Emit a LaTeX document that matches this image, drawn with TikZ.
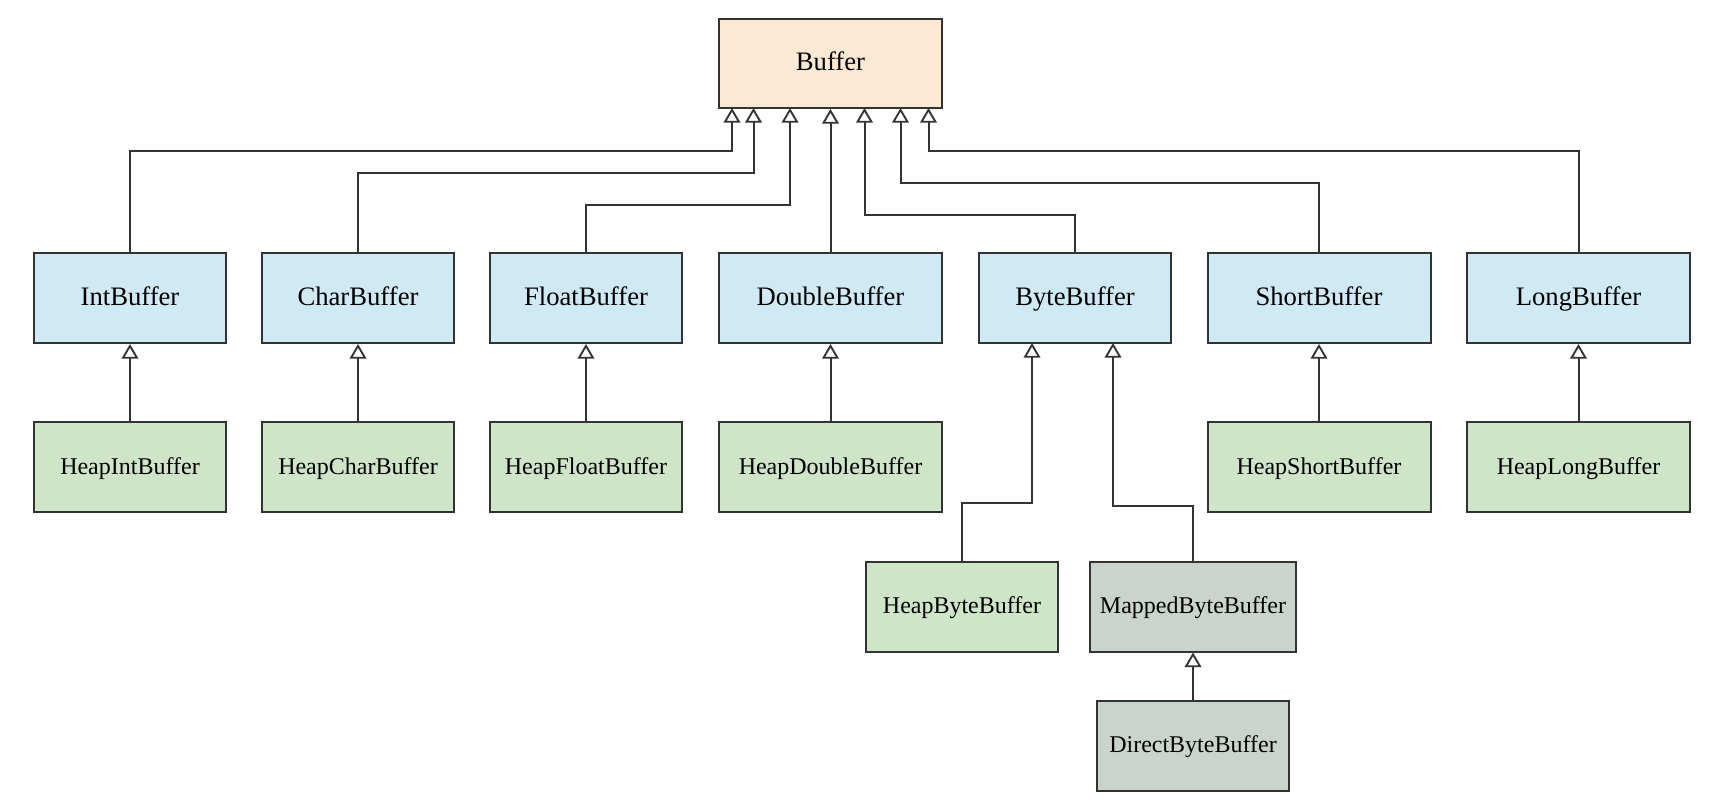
\documentclass[tikz,border=0pt]{standalone}
\usepackage{fontspec}
\setmainfont{Liberation Serif}
\usetikzlibrary{arrows.meta}
\definecolor{bordc}{HTML}{333333}
\definecolor{rootc}{HTML}{FCE9D3}
\definecolor{bluec}{HTML}{D0EAF5}
\definecolor{greenc}{HTML}{CEE5C8}
\definecolor{grayc}{HTML}{CAD4CC}
\tikzset{
  box/.style={draw=bordc, line width=1.5pt, inner sep=0pt, minimum height=67.5pt, text=black, align=center, text height=13pt, text depth=2pt},
  big/.style={font=\fontsize{20}{24}\selectfont},
  small/.style={font=\fontsize{18}{22}\selectfont},
  w192/.style={minimum width=144pt},
  w223/.style={minimum width=167.25pt},
  w206/.style={minimum width=154.5pt},
  inh/.style={draw=bordc, line width=1.5pt, -{Triangle[open, length=11pt, width=12.5pt, line width=1.4pt]}},
}
\begin{document}
\begin{tikzpicture}[x=0.75pt, y=-0.75pt]
\useasboundingbox (0,0) rectangle (1729,811);
% root
\node[box, big, fill=rootc, w223, minimum height=66.75pt] (buf) at (830.5,63.5) {Buffer};
% row 1
\node[box, big, fill=bluec, w192] (int) at (130,298) {IntBuffer};
\node[box, big, fill=bluec, w192] (chr) at (358,298) {CharBuffer};
\node[box, big, fill=bluec, w192] (flt) at (586,298) {FloatBuffer};
\node[box, big, fill=bluec, w223] (dbl) at (830.5,298) {DoubleBuffer};
\node[box, big, fill=bluec, w192] (byt) at (1075,298) {ByteBuffer};
\node[box, big, fill=bluec, w223] (sht) at (1319,298) {ShortBuffer};
\node[box, big, fill=bluec, w223] (lng) at (1578.5,298) {LongBuffer};
% row 2
\node[box, small, fill=greenc, w192] (hint) at (130,467) {HeapIntBuffer};
\node[box, small, fill=greenc, w192] (hchr) at (358,467) {HeapCharBuffer};
\node[box, small, fill=greenc, w192] (hflt) at (586,467) {HeapFloatBuffer};
\node[box, small, fill=greenc, w223] (hdbl) at (830.5,467) {HeapDoubleBuffer};
\node[box, small, fill=greenc, w223] (hsht) at (1319,467) {HeapShortBuffer};
\node[box, small, fill=greenc, w223] (hlng) at (1578.5,467) {HeapLongBuffer};
% byte children
\node[box, small, fill=greenc, w192] (hbyt) at (962,606.5) {HeapByteBuffer};
\node[box, small, fill=grayc, w206] (mbyt) at (1193,606.5) {MappedByteBuffer};
\node[box, small, fill=grayc, w192] (dbyt) at (1193,745.5) {DirectByteBuffer};
% attachment points on Buffer bottom
\coordinate (t1) at (732,108);
\coordinate (t2) at (753.5,108);
\coordinate (t3) at (790,108);
\coordinate (t5) at (864.5,108);
\coordinate (t6) at (900.5,108);
\coordinate (t7) at (928.5,108);
% attachment points on ByteBuffer bottom
\coordinate (b1) at (1032,343);
\coordinate (b2) at (1113,343);
% connectors to Buffer
\draw[inh] (int.north) |- (t1 |- 0,151) -- (t1);
\draw[inh] (chr.north) |- (t2 |- 0,173) -- (t2);
\draw[inh] (flt.north) |- (t3 |- 0,205) -- (t3);
\draw[inh] (dbl.north) -- (buf.south);
\draw[inh] (byt.north) |- (t5 |- 0,215) -- (t5);
\draw[inh] (sht.north) |- (t6 |- 0,183) -- (t6);
\draw[inh] (lng.north) |- (t7 |- 0,151) -- (t7);
% heap connectors
\draw[inh] (hint.north) -- (int.south);
\draw[inh] (hchr.north) -- (chr.south);
\draw[inh] (hflt.north) -- (flt.south);
\draw[inh] (hdbl.north) -- (dbl.south);
\draw[inh] (hsht.north) -- (sht.south);
\draw[inh] (hlng.north) -- (lng.south);
% byte children connectors
\draw[inh] (hbyt.north) |- (b1 |- 0,503) -- (b1);
\draw[inh] (mbyt.north) |- (b2 |- 0,506) -- (b2);
\draw[inh] (dbyt.north) -- (mbyt.south);
\end{tikzpicture}
\end{document}
